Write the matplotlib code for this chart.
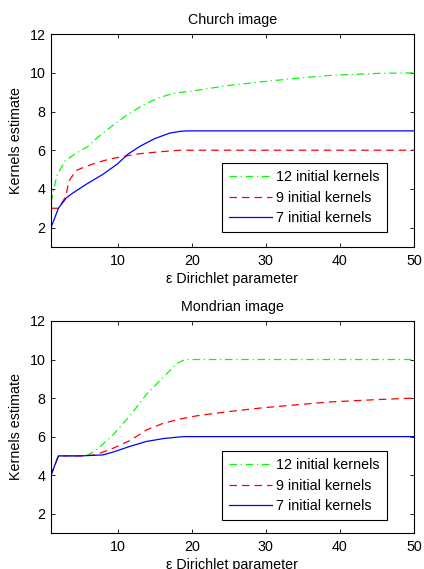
import matplotlib
matplotlib.use("Agg")
import matplotlib.pyplot as plt
from matplotlib.ticker import FixedLocator

plt.rcParams['font.family'] = ['Liberation Sans', 'DejaVu Sans']

# Church image data
church_x12 = [1, 1.8, 2.9, 4.4, 6, 7.1, 9.4, 11, 13.5, 15.5, 17.6, 19.9, 25, 29.8, 35, 38.8, 45, 50]
church_y12 = [3.3, 4.7, 5.45, 5.85, 6.2, 6.6, 7.3, 7.75, 8.35, 8.7, 8.95, 9.05, 9.35, 9.55, 9.75, 9.87, 9.97, 10.0]
church_x9 = [1, 2, 3, 3.4, 4.4, 5, 7.1, 9, 11.4, 13, 15.7, 18.4, 20, 50]
church_y9 = [3, 3, 3.6, 4.4, 4.95, 5.05, 5.35, 5.55, 5.72, 5.82, 5.92, 6.0, 6.0, 6.0]
church_x7 = [1, 2, 3.1, 4, 5.8, 8, 10, 11.4, 13, 15, 17, 18.5, 19.5, 50]
church_y7 = [2, 3, 3.55, 3.8, 4.25, 4.75, 5.3, 5.8, 6.2, 6.6, 6.88, 6.98, 7.0, 7.0]

# Mondrian image data
mond_x12 = [1, 2, 5, 6, 7.1, 9.4, 11.7, 13.9, 16.2, 18, 19.1, 50]
mond_y12 = [4, 5, 5, 5.05, 5.3, 6.1, 7.1, 8.2, 9.1, 9.8, 10, 10]
mond_x9 = [1, 2, 5, 7, 9.4, 11.7, 13.9, 16.2, 18.9, 20.7, 25, 29.7, 35, 38.7, 45, 50]
mond_y9 = [4, 5, 5, 5.05, 5.4, 5.8, 6.35, 6.7, 6.95, 7.08, 7.3, 7.5, 7.68, 7.8, 7.92, 8.0]
mond_x7 = [1, 2, 5, 8, 9.4, 11.7, 13.9, 16.2, 18, 19, 50]
mond_y7 = [4, 5, 5, 5.05, 5.2, 5.5, 5.75, 5.9, 5.97, 6, 6]

labels = ['12 initial kernels', '9 initial kernels', '7 initial kernels']
xticks = [10, 20, 30, 40, 50]
yticks = [2, 4, 6, 8, 10, 12]

FS = 10.3

fig = plt.figure(figsize=(4.24, 5.69), dpi=100)
ax1 = fig.add_axes([0.1203, 0.566, 0.856, 0.374])
ax2 = fig.add_axes([0.1203, 0.0633, 0.856, 0.3726])

def style(ax, title, leg_top):
    ax.set_xlim(1, 50)
    ax.set_ylim(1, 12)
    ax.xaxis.set_major_locator(FixedLocator(xticks))
    ax.yaxis.set_major_locator(FixedLocator(yticks))
    ax.tick_params(direction='in', top=True, right=True, length=3, width=0.6,
                   labelsize=FS)
    ax.tick_params(axis='x', pad=5)
    ax.tick_params(axis='y', pad=4)
    for s in ax.spines.values():
        s.set_linewidth(0.8)
    ax.set_title(title, fontsize=FS, pad=7)
    ax.set_xlabel('ε Dirichlet parameter', fontsize=FS, labelpad=3)
    ax.set_ylabel('Kernels estimate', fontsize=FS, labelpad=5)
    leg = ax.legend(loc='upper right', bbox_to_anchor=(0.926, leg_top), fontsize=FS,
                    frameon=True, fancybox=False, edgecolor='black', framealpha=1,
                    handlelength=3.0, handletextpad=0.3, borderpad=0.5,
                    labelspacing=0.45, borderaxespad=0)
    leg.get_frame().set_linewidth(0.8)

ax1.plot(church_x12, church_y12, color=(0, 1, 0), lw=0.9, ls=(0, (6, 3, 1, 3)), label=labels[0])
ax1.plot(church_x9, church_y9, color=(1, 0, 0), lw=0.9, ls=(0, (6, 4)), label=labels[1])
ax1.plot(church_x7, church_y7, color=(0, 0, 1), lw=0.9, ls='-', label=labels[2])
style(ax1, 'Church image', 0.394)

ax2.plot(mond_x12, mond_y12, color=(0, 1, 0), lw=0.9, ls=(0, (6, 3, 1, 3)), label=labels[0])
ax2.plot(mond_x9, mond_y9, color=(1, 0, 0), lw=0.9, ls=(0, (6, 4)), label=labels[1])
ax2.plot(mond_x7, mond_y7, color=(0, 0, 1), lw=0.9, ls='-', label=labels[2])
style(ax2, 'Mondrian image', 0.387)

fig.savefig('out.png', dpi=100)
